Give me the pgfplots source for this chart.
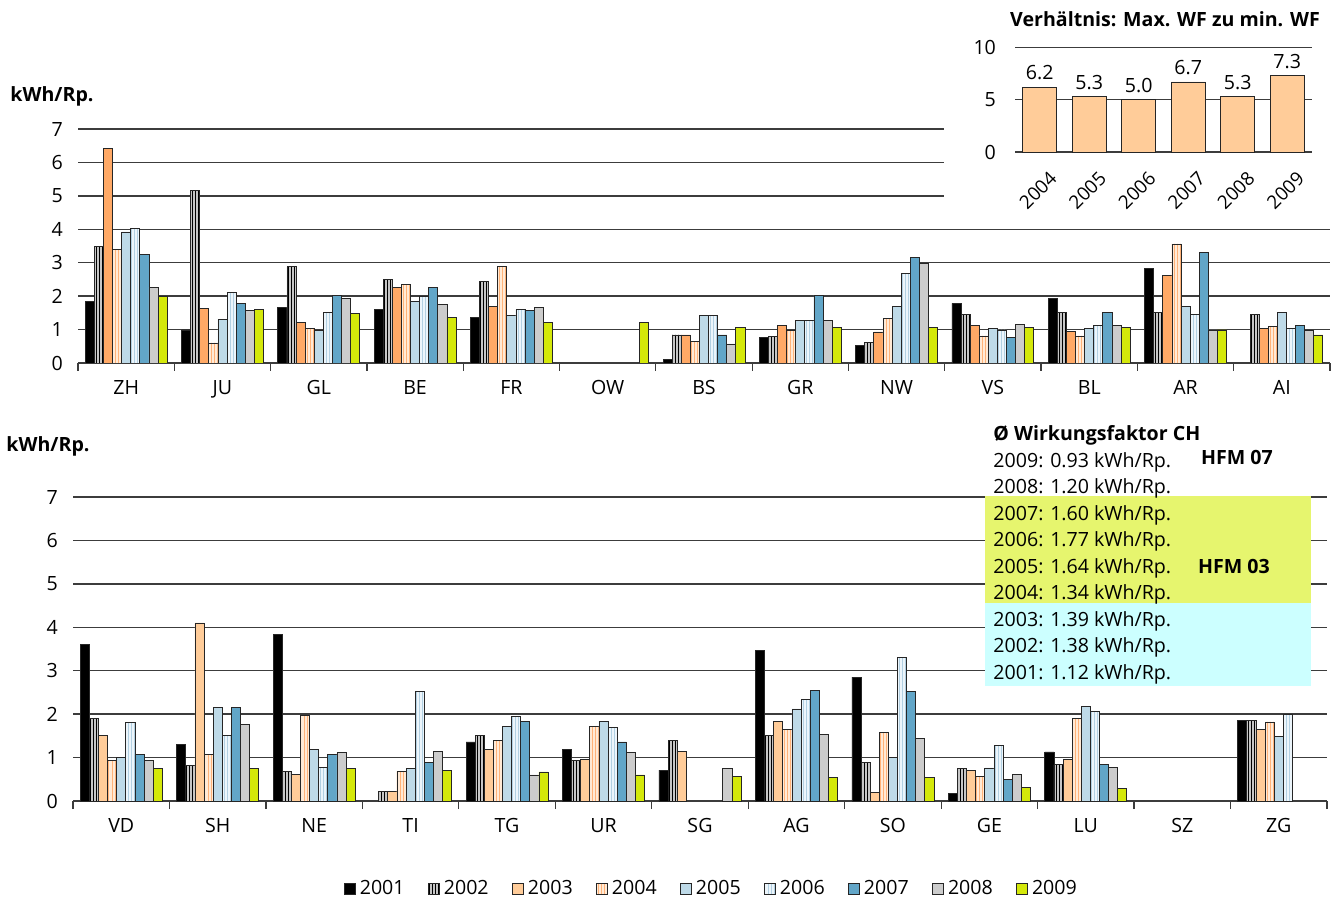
\documentclass[border=0pt]{standalone}
\usepackage{fontspec}
\setmainfont{Open Sans}
\usepackage{pgfplots}
\pgfplotsset{compat=1.18}
\usepackage{pgfplotstable}
\usetikzlibrary{patterns.meta}

\definecolor{c2003a}{RGB}{255,169,102}
\definecolor{c2003b}{RGB}{255,204,153}
\definecolor{c2004}{RGB}{255,234,214}
\definecolor{c2004s}{RGB}{255,178,120}
\definecolor{c2005}{RGB}{190,218,232}
\definecolor{c2006}{RGB}{236,245,251}
\definecolor{c2006s}{RGB}{178,208,226}
\definecolor{c2007}{RGB}{98,166,200}
\definecolor{c2008}{RGB}{204,204,204}
\definecolor{c2009}{RGB}{212,232,10}
\definecolor{hfmy}{RGB}{230,245,110}
\definecolor{hfmc}{RGB}{204,255,255}
\definecolor{gridc}{RGB}{60,60,60}

\newcommand{\fs}{\fontsize{9.8}{12}\selectfont}

\pgfplotsset{
  sq/.style={legend image code/.code={\draw[##1] (0pt,-2.7pt) rectangle (5.4pt,2.7pt);}},
  bb/.style={draw=black!85, line width=0.4pt, sq},
  y01/.style={bb, fill=black},
  y02/.style={bb, fill=gray!45, postaction={pattern={Lines[angle=90,distance=1.5pt,line width=0.45pt]}, pattern color=black}},
  y03a/.style={bb, fill=c2003a},
  y03b/.style={bb, fill=c2003b},
  y04/.style={bb, fill=c2004, postaction={pattern={Lines[angle=90,distance=1.6pt,line width=0.35pt]}, pattern color=c2004s}},
  y05/.style={bb, fill=c2005},
  y06/.style={bb, fill=c2006, postaction={pattern={Lines[angle=90,distance=1.6pt,line width=0.35pt]}, pattern color=c2006s}},
  y07/.style={bb, fill=c2007},
  y08/.style={bb, fill=c2008},
  y09/.style={bb, fill=c2009},
  mainax/.style={
    scale only axis,
    xmin=-0.5, xmax=12.5, ymin=0, ymax=7,
    ybar=0pt, bar width=0.0945,
    axis line style={draw=none},
    xtick={0,...,12},
    minor xtick={-0.5,0.5,...,12.5},
    major tick length=0pt, minor tick length=4pt,
    tick align=outside, tick pos=left,
    minor tick style={gridc, line width=0.6pt},
    ytick={0,...,7},
    ymajorgrids,
    grid style={gridc, line width=0.7pt},
    tick label style={font=\fs},
    /pgf/number format/assume math mode=true,
    xticklabel style={yshift=-5pt},
    yticklabel style={xshift=-4pt},
  },
}

\pgfplotstableread{
x  a    b    c    d    e    f    g    h    i
0  1.84 3.48 6.42 3.39 3.92 4.02 3.25 2.27 1.98
1  0.99 5.15 1.64 0.60 1.31 2.11 1.79 1.56 1.60
2  1.65 2.88 1.22 1.04 0.98 1.51 2.03 1.93 1.47
3  1.61 2.50 2.26 2.35 1.83 1.98 2.27 1.75 1.36
4  1.37 2.45 1.70 2.88 1.42 1.60 1.56 1.65 1.22
5  nan  nan  nan  nan  nan  nan  nan  nan  1.22
6  0.10 0.84 0.84 0.65 1.42 1.42 0.84 0.57 1.07
7  0.76 0.80 1.13 0.98 1.27 1.27 2.03 1.27 1.07
8  0.52 0.61 0.93 1.32 1.70 2.68 3.16 2.97 1.07
9  1.78 1.46 1.12 0.81 1.03 0.99 0.76 1.16 1.07
10 1.93 1.50 0.94 0.81 1.03 1.12 1.50 1.12 1.07
11 2.82 1.50 2.63 3.56 1.69 1.45 3.32 0.99 0.99
12 nan  1.44 1.03 1.09 1.50 1.03 1.13 0.98 0.84
}\topdata

\pgfplotstableread{
x  a    b    c    d    e    f    g    h    i
0  3.61 1.90 1.51 0.93 1.00 1.80 1.07 0.93 0.75
1  1.30 0.82 4.10 1.07 2.15 1.51 2.15 1.76 0.75
2  3.83 0.68 0.61 1.97 1.19 0.78 1.07 1.11 0.75
3  nan  0.21 0.21 0.68 0.75 2.52 0.89 1.14 0.70
4  1.36 1.51 1.19 1.39 1.72 1.94 1.84 0.60 0.67
5  1.19 0.93 0.96 1.72 1.84 1.69 1.36 1.11 0.60
6  0.71 1.39 1.14 nan  nan  nan  nan  0.75 0.57
7  3.46 1.51 1.83 1.65 2.12 2.34 2.54 1.53 0.54
8  2.85 0.89 0.20 1.58 1.00 3.30 2.52 1.44 0.54
9  0.18 0.75 0.71 0.57 0.76 1.28 0.50 0.62 0.32
10 1.13 0.84 0.95 1.90 2.18 2.07 0.84 0.78 0.28
11 nan  nan  nan  nan  nan  nan  nan  nan  nan
12 1.85 1.85 1.64 1.82 1.49 2.00 nan  nan  nan
}\botdata

\pgfplotstableread{
x y
0 6.2
1 5.3
2 5.0
3 6.7
4 5.3
5 7.3
}\ratio

\begin{document}
\begin{tikzpicture}[x=0.5pt,y=0.5pt]
\path[use as bounding box] (0,0) rectangle (1333,900);

% ---------- top chart ----------
\begin{axis}[mainax, at={(39pt,268.5pt)}, anchor=south west, width=626pt, height=117pt,
  xticklabels={ZH,JU,GL,BE,FR,OW,BS,GR,NW,VS,BL,AR,AI}]
\addplot[y01]  table[x=x,y=a]{\topdata};
\addplot[y02]  table[x=x,y=b]{\topdata};
\addplot[y03a] table[x=x,y=c]{\topdata};
\addplot[y04]  table[x=x,y=d]{\topdata};
\addplot[y05]  table[x=x,y=e]{\topdata};
\addplot[y06]  table[x=x,y=f]{\topdata};
\addplot[y07]  table[x=x,y=g]{\topdata};
\addplot[y08]  table[x=x,y=h]{\topdata};
\addplot[y09]  table[x=x,y=i]{\topdata};
\end{axis}
\node[font=\fs\bfseries] at (52,804) {kWh/Rp.};

% white background of inset
\fill[white] (944,900) rectangle (1333,687);

% ---------- inset ----------
\begin{axis}[at={(507.5pt,374pt)}, anchor=south west, scale only axis,
  width=148.5pt, height=52.3pt,
  xmin=-0.5, xmax=5.5, ymin=0, ymax=10,
  ybar, bar width=0.69,
  axis line style={draw=none},
  xtick={0,...,5}, xticklabels={2004,2005,2006,2007,2008,2009},
  ytick={0,5,10},
  major tick length=0pt,
  ymajorgrids, grid style={gridc, line width=0.7pt},
  tick label style={font=\fs},
  /pgf/number format/assume math mode=true,
  xticklabel style={rotate=45, anchor=north east, font=\fontsize{9.4}{11}\selectfont, xshift=0pt, yshift=-6pt},
  yticklabel style={xshift=-6pt},
  nodes near coords={\pgfmathprintnumber[fixed,fixed zerofill,precision=1]{\pgfplotspointmeta}},
  nodes near coords style={font=\fs, /pgf/number format/assume math mode=true},
  clip=false]
\addplot[draw=black!85, line width=0.4pt, fill=c2003b] table[x=x,y=y]{\ratio};
\end{axis}
\node[font=\fs\bfseries] at (1165,881) {Verhältnis: Max. WF zu min. WF};

% ---------- bottom chart ----------
\begin{axis}[mainax, at={(36.5pt,49.5pt)}, anchor=south west, width=627pt, height=152pt,
  xticklabels={VD,SH,NE,TI,TG,UR,SG,AG,SO,GE,LU,SZ,ZG},
  legend columns=9,
  legend style={at={(0.51,-0.29)}, anchor=center, draw=none, fill=none,
    font=\fs, /tikz/every even column/.append style={column sep=9.8pt},
    /tikz/every odd column/.append style={column sep=0pt}},
  ]
\addplot[y01]  table[x=x,y=a]{\botdata};
\addplot[y02]  table[x=x,y=b]{\botdata};
\addplot[y03b] table[x=x,y=c]{\botdata};
\addplot[y04]  table[x=x,y=d]{\botdata};
\addplot[y05]  table[x=x,y=e]{\botdata};
\addplot[y06]  table[x=x,y=f]{\botdata};
\addplot[y07]  table[x=x,y=g]{\botdata};
\addplot[y08]  table[x=x,y=h]{\botdata};
\addplot[y09]  table[x=x,y=i]{\botdata};
\legend{2001,2002,2003,2004,2005,2006,2007,2008,2009}
\end{axis}
\node[font=\fs\bfseries] at (48,454) {kWh/Rp.};

% ---------- info box ----------
\fill[hfmy] (985,404) rectangle (1311,297);
\fill[hfmc] (985,297) rectangle (1311,214);
\node[font=\fs\bfseries, anchor=west, inner sep=0pt] at (993,465) {Ø Wirkungsfaktor CH};
\foreach \yy/\tt in {438/{2009: 0.93 kWh/Rp.},412/{2008: 1.20 kWh/Rp.},385/{2007: 1.60 kWh/Rp.},359/{2006: 1.77 kWh/Rp.},332/{2005: 1.64 kWh/Rp.},306/{2004: 1.34 kWh/Rp.},279/{2003: 1.39 kWh/Rp.},253/{2002: 1.38 kWh/Rp.},226/{2001: 1.12 kWh/Rp.}}
  \node[font=\fs, anchor=west, inner sep=0pt] at (993,\yy) {\tt};
\node[font=\fs\bfseries] at (1237,443) {HFM 07};
\node[font=\fs\bfseries] at (1234,334) {HFM 03};
\end{tikzpicture}
\end{document}
